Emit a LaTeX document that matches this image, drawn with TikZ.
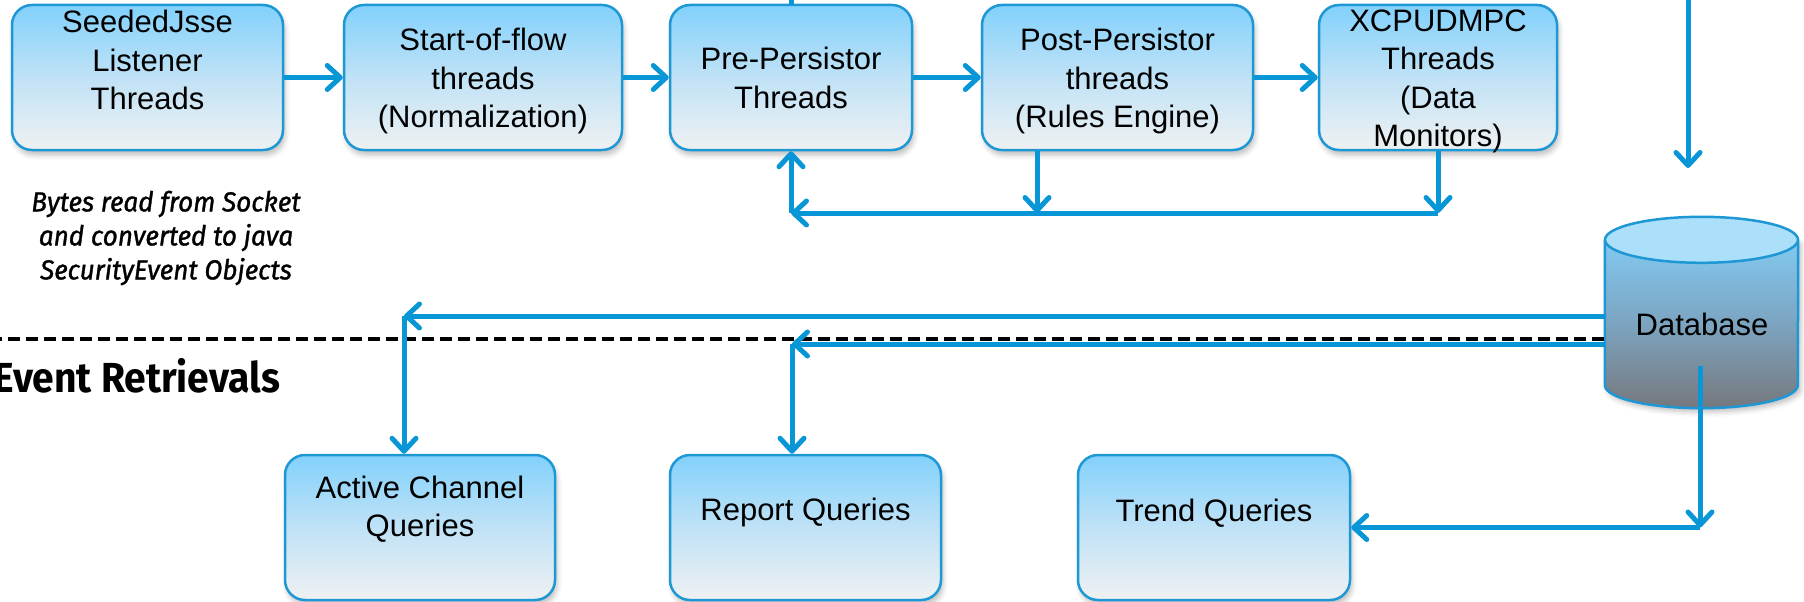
\documentclass[tikz,border=0pt]{standalone}
\usepackage{fontspec}
\setmainfont{Liberation Sans}
\newfontfamily\notefont{Fira Sans}[FakeStretch=0.95, FakeBold=1.2]
\newfontfamily\headfont{Fira Sans}[FakeStretch=0.93]
\usetikzlibrary{arrows.meta,shadows.blur,calc}

\definecolor{flowblue}{RGB}{8,150,214}
\definecolor{boxedge}{RGB}{30,152,212}
\definecolor{boxtop}{RGB}{130,209,252}
\definecolor{boxmid}{RGB}{192,226,246}
\definecolor{boxbot}{RGB}{239,241,242}
\definecolor{dbcap}{RGB}{172,223,250}
\definecolor{dbtop}{RGB}{130,202,242}
\definecolor{dbmid}{RGB}{124,164,192}
\definecolor{dbbot}{RGB}{118,120,125}

\begin{document}
\begin{tikzpicture}[x=1pt,y=-1pt,
  box/.style={rectangle, rounded corners=20pt, draw=boxedge, line width=2.5pt,
    top color=boxtop, bottom color=boxbot, middle color=boxmid,
    minimum height=145pt, inner sep=0pt,
    blur shadow={shadow xshift=2pt, shadow yshift=-5pt, shadow blur radius=5pt, shadow opacity=25}},
  lbl/.style={font=\fontsize{31}{38.5}\selectfont, align=center, inner sep=0pt},
  flow/.style={draw=flowblue, line width=5pt, -{Straight Barb[length=13pt,width=24pt,round]}},
  plain/.style={draw=flowblue, line width=5pt},
  sepline/.style={draw=black, line width=3.5pt, dash pattern=on 12pt off 6pt},
  dbline/.style={draw=boxedge, line width=2.5pt},
]
\useasboundingbox (0,0) rectangle (1804,602);

% ingest pipeline
\node[box, minimum width=271pt] (b1) at (147.5,77.5) {};
\node[box, minimum width=278pt] (b2) at (483,77.5) {};
\node[box, minimum width=242pt] (b3) at (791,77.5) {};
\node[box, minimum width=271pt] (b4) at (1117.5,77.5) {};
\node[box, minimum width=238pt] (b5) at (1438,77.5) {};

% query consumers
\node[box, minimum width=270pt] (q1) at (420,527.5) {};
\node[box, minimum width=271pt] (q2) at (805.5,527.5) {};
\node[box, minimum width=272pt] (q3) at (1214,527.5) {};

% database cylinder
\node[inner sep=0pt, minimum width=193pt, minimum height=145pt] (db) at (1701.5,312.5) {};
\path[top color=dbtop, bottom color=dbbot, middle color=dbmid,
      blur shadow={shadow xshift=3pt, shadow yshift=-4pt, shadow blur radius=5pt, shadow opacity=25}]
  (db.north west) -- (db.south west)
  arc[start angle=180, end angle=360, x radius=96.5pt, y radius=23pt]
  -- (db.north east) -- cycle;
\draw[dbline] (db.north west) -- (db.south west)
  arc[start angle=180, end angle=360, x radius=96.5pt, y radius=23pt]
  -- (db.north east);
\draw[dbline, fill=dbcap] (db.north) ellipse [x radius=96.5pt, y radius=23pt];

% pipeline arrows
\draw[flow] (b1) -- (b2);
\draw[flow] (b2) -- (b3);
\draw[flow] (b3) -- (b4);
\draw[flow] (b4) -- (b5);

% feedback loop into the pre-persistor
\coordinate (loopR) at (1438,213);
\coordinate (loopL) at (b3.south |- loopR);
\coordinate (b4out) at ([xshift=-80.5pt]b4.south);
\draw[flow] (b5.south) -- (loopR);
\draw[flow] (loopR) -- (loopL);
\draw[flow] (loopL) -- (b3.south);
\draw[flow] (b4out) -- (b4out |- loopR);

% incoming lines from above
\coordinate (b3in) at ([yshift=12pt]b3.north);
\draw[plain] (b3in) -- (b3.north);
\coordinate (feedTop) at (1688,-10);
\coordinate (feedEnd) at (1688,168);
\draw[flow] (feedTop) -- (feedEnd);

% section separator
\coordinate (sepStart) at (-10,339);
\draw[sepline] (sepStart) -- (db.west |- sepStart);

% retrieval arrows
\coordinate (acTurn) at (404,316);
\coordinate (rqTurn) at (792,344);
\coordinate (dbDown) at (1700,366);
\coordinate (tqTurn) at (1700,527.5);
\draw[flow] (db.west |- acTurn) -- (acTurn);
\draw[flow] (acTurn) -- (acTurn |- q1.north);
\draw[flow] (db.west |- rqTurn) -- (rqTurn);
\draw[flow] (rqTurn) -- (rqTurn |- q2.north);
\draw[flow] (dbDown) -- (tqTurn);
\draw[flow] (tqTurn) -- (q3.east);

% labels
\node[lbl] (b1t) at (147.5,60) {SeededJsse\\Listener\\Threads};
\node[lbl] (b2t) at (483,81) {Start-of-flow\\threads\\(Normalization)};
\node[lbl] (b3t) at (791,78) {Pre-Persistor\\Threads};
\node[lbl] (b4t) at (1117.5,81) {Post-Persistor\\threads\\(Rules Engine)};
\node[lbl] (b5t) at (1438,81.5) {XCPUDMPC\\Threads\\(Data\\Monitors)};
\node[lbl] (q1t) at (420,509) {Active Channel\\Queries};
\node[lbl] (q2t) at (805.5,512) {Report Queries};
\node[lbl] (q3t) at (1214,513) {Trend Queries};
\node[lbl] (dbt) at (1702,324) {Database};

\node[font={\notefont\itshape\fontsize{27.5}{34}\selectfont}, align=center, inner sep=0pt] (note) at (166,238)
  {Bytes read from Socket\\and converted to java\\SecurityEvent Objects};
\node[font={\headfont\bfseries\fontsize{42}{50}\selectfont}, anchor=base west, inner sep=0pt] (sect) at (-7,392)
  {Event Retrievals};
\end{tikzpicture}
\end{document}
